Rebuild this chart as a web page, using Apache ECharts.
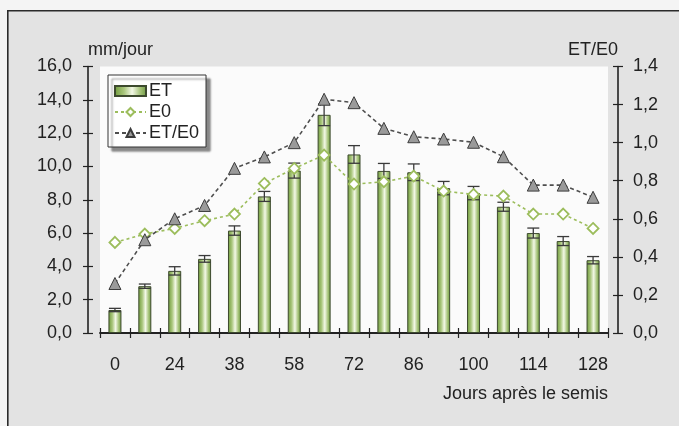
<!DOCTYPE html>
<html>
<head>
<meta charset="utf-8">
<script src="https://cdn.jsdelivr.net/npm/echarts@6/dist/echarts.min.js"></script>
<style>
  html, body { margin: 0; padding: 0; background: #f4f4f4; }
  #chart { width: 679px; height: 426px; }
</style>
</head>
<body>
<div id="chart"></div>
<script>
// Days after sowing (only every other one is labelled on the axis)
const days = ['0', '12', '24', '31', '38', '48', '58', '65', '72', '79', '86', '93', '100', '107', '114', '121', '128'];
// ET (mm/jour) and its error half-width
const etValues = [1.38, 2.81, 3.73, 4.45, 6.15, 8.2, 9.75, 13.1, 10.72, 9.73, 9.65, 8.7, 8.4, 7.58, 6.0, 5.52, 4.37];
const etErrors = [0.1, 0.13, 0.25, 0.2, 0.28, 0.3, 0.45, 0.65, 0.53, 0.45, 0.5, 0.4, 0.4, 0.27, 0.3, 0.27, 0.22];
// Reference evapotranspiration E0 (mm/jour)
const e0Values = [5.44, 5.94, 6.28, 6.74, 7.14, 8.98, 9.88, 10.68, 8.94, 9.08, 9.42, 8.52, 8.32, 8.22, 7.14, 7.14, 6.28];
// Ratio ET/E0 (right axis)
const ratioValues = [0.26, 0.49, 0.6, 0.67, 0.865, 0.925, 1.0, 1.228, 1.21, 1.075, 1.031, 1.019, 1.002, 0.926, 0.777, 0.777, 0.713];

const FONT = '"Liberation Sans", Arial, Helvetica, sans-serif';
const TXT = '#222';
const AXIS = '#222';

const comma = v => Number(v).toFixed(1).replace('.', ',');

const errorData = days.map((d, i) => [i, etValues[i] - etErrors[i], etValues[i] + etErrors[i]]);

const barGradient = new echarts.graphic.LinearGradient(0, 0, 1, 0, [
  { offset: 0, color: '#6e9a3a' },
  { offset: 0.3, color: '#a9c67c' },
  { offset: 0.55, color: '#f3f8e6' },
  { offset: 0.8, color: '#a4c277' },
  { offset: 1, color: '#6c9640' }
]);

const chart = echarts.init(document.getElementById('chart'), null, { renderer: 'canvas' });

const baseYLeft = {
  type: 'value', position: 'left', offset: 12, min: 0, max: 16, interval: 2,
  splitLine: { show: false }
};
const baseYRight = {
  type: 'value', position: 'right', offset: 10, min: 0, max: 1.4, interval: 0.2,
  splitLine: { show: false }
};

chart.setOption({
  animation: false,
  backgroundColor: '#f4f4f4',
  textStyle: { fontFamily: FONT },
  graphic: [{
    type: 'rect', left: 7, top: 10, z: -100,
    shape: { width: 700, height: 440 },
    style: { fill: '#e3e3e3', stroke: '#2b2b2b', lineWidth: 1.6 }
  }],
  grid: {
    left: 100, right: 71, top: 66.5, bottom: 93,
    show: true, backgroundColor: '#fbfbfb', borderWidth: 0
  },
  legend: {
    data: [{ name: 'ET', icon: 'rect' }, { name: 'E0' }, { name: 'ET/E0' }],
    orient: 'vertical', left: 108, top: 75,
    itemWidth: 31, itemHeight: 10, itemGap: 3,
    padding: [7, 7, 5, 6],
    backgroundColor: '#ffffff', borderColor: '#333', borderWidth: 1,
    shadowColor: 'rgba(0,0,0,0.45)', shadowBlur: 2, shadowOffsetX: 4, shadowOffsetY: 4,
    textStyle: { fontSize: 18, color: TXT, fontFamily: FONT, padding: [0, 0, 0, -2] }
  },
  xAxis: [{
    type: 'category', data: days, position: 'bottom', offset: 13,
    axisLine: { lineStyle: { color: AXIS, width: 1.8 } },
    axisTick: { show: true, interval: 0, length: 5, lineStyle: { color: AXIS, width: 1.2 } },
    axisLabel: { interval: 1, margin: 10, fontSize: 18, color: TXT, fontFamily: FONT },
    name: 'Jours après le semis', nameLocation: 'end', nameGap: 0,
    nameTextStyle: { align: 'right', verticalAlign: 'top', padding: [52, 0, 0, 0], fontSize: 18, color: TXT, fontFamily: FONT }
  }, {
    type: 'category', data: days, position: 'bottom', offset: 13,
    axisLine: { show: false },
    axisTick: { show: true, inside: true, interval: 0, length: 5, lineStyle: { color: AXIS, width: 1.2 } },
    axisLabel: { show: false }
  }],
  yAxis: [
    Object.assign({}, baseYLeft, {
      axisLine: { show: true, lineStyle: { color: AXIS, width: 1.6 } },
      axisTick: { show: true, length: 5, lineStyle: { color: AXIS, width: 1.2 } },
      axisLabel: { margin: 16, fontSize: 18, color: TXT, fontFamily: FONT, formatter: comma },
      name: 'mm/jour', nameLocation: 'end', nameGap: 16,
      nameTextStyle: { align: 'left', verticalAlign: 'middle', fontSize: 18, color: TXT, fontFamily: FONT }
    }),
    Object.assign({}, baseYLeft, {
      axisLine: { show: false },
      axisTick: { show: true, inside: true, length: 5, lineStyle: { color: AXIS, width: 1.2 } },
      axisLabel: { show: false }
    }),
    Object.assign({}, baseYRight, {
      axisLine: { show: true, lineStyle: { color: AXIS, width: 1.6 } },
      axisTick: { show: true, length: 5, lineStyle: { color: AXIS, width: 1.2 } },
      axisLabel: { margin: 15, fontSize: 18, color: TXT, fontFamily: FONT, formatter: comma },
      name: 'ET/E0', nameLocation: 'end', nameGap: 16,
      nameTextStyle: { align: 'right', verticalAlign: 'middle', fontSize: 18, color: TXT, fontFamily: FONT }
    }),
    Object.assign({}, baseYRight, {
      axisLine: { show: false },
      axisTick: { show: true, inside: true, length: 5, lineStyle: { color: AXIS, width: 1.2 } },
      axisLabel: { show: false }
    })
  ],
  series: [
    {
      name: 'ET', type: 'bar', xAxisIndex: 0, yAxisIndex: 0,
      data: etValues, barWidth: 13, z: 2,
      itemStyle: { color: barGradient, borderColor: '#3d4a2e', borderWidth: 1 }
    },
    {
      name: 'ET-err', type: 'custom', xAxisIndex: 0, yAxisIndex: 0, z: 3,
      data: errorData,
      encode: { x: 0, y: [1, 2] },
      renderItem: function (params, api) {
        const i = api.value(0);
        const top = api.coord([i, api.value(2)]);
        const bot = api.coord([i, api.value(1)]);
        const hw = 6;
        const st = { stroke: '#3a3a3a', lineWidth: 1.3 };
        return {
          type: 'group',
          children: [
            { type: 'line', shape: { x1: top[0], y1: top[1], x2: bot[0], y2: bot[1] }, style: st },
            { type: 'line', shape: { x1: top[0] - hw, y1: top[1], x2: top[0] + hw, y2: top[1] }, style: st },
            { type: 'line', shape: { x1: bot[0] - hw, y1: bot[1], x2: bot[0] + hw, y2: bot[1] }, style: st }
          ]
        };
      }
    },
    {
      name: 'E0', type: 'line', xAxisIndex: 0, yAxisIndex: 0, z: 4,
      data: e0Values,
      symbol: 'diamond', symbolSize: 11, showSymbol: true,
      lineStyle: { color: '#9cbd5c', width: 1.6, type: [3, 3] },
      itemStyle: { color: '#ffffff', borderColor: '#9cbd5c', borderWidth: 1.8 }
    },
    {
      name: 'ET/E0', type: 'line', xAxisIndex: 0, yAxisIndex: 2, z: 5,
      data: ratioValues,
      symbol: 'triangle', symbolSize: 12, showSymbol: true,
      lineStyle: { color: '#4e4e4e', width: 1.6, type: [4, 3] },
      itemStyle: { color: '#9a9a9a', borderColor: '#3c3c3c', borderWidth: 1 }
    }
  ]
});
</script>
</body>
</html>
